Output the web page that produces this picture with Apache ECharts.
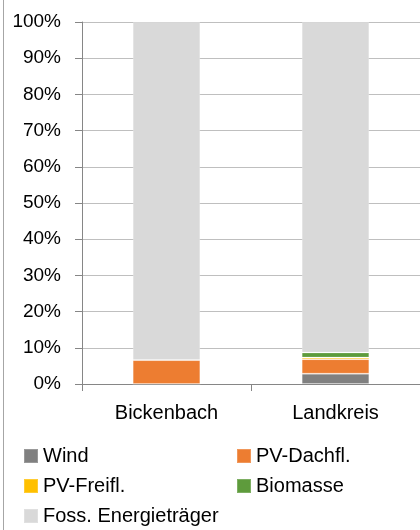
<!DOCTYPE html>
<html>
<head>
<meta charset="utf-8">
<script src="https://cdn.jsdelivr.net/npm/echarts@6/dist/echarts.min.js"></script>
<style>
  html, body { margin: 0; padding: 0; background: #fff; }
  #chart { width: 420px; height: 530px; }
</style>
</head>
<body>
<div id="chart"></div>
<script>
// Share of energy sources (percent of total), stacked per region
const categories = ['Bickenbach', 'Landkreis'];
const wind        = [0, 2.85];
const pvDach      = [6.6, 4.0];
const pvFrei      = [0, 0.45];
const biomasse    = [0, 1.4];
const fossil      = [93.4, 91.3];
const yTicks      = { min: 0, max: 100, step: 10 };

const seriesDefs = [
  { name: 'Wind', data: wind, color: '#808080' },
  { name: 'PV-Dachfl.', data: pvDach, color: '#ED7D31' },
  { name: 'PV-Freifl.', data: pvFrei, color: '#FFC000' },
  { name: 'Biomasse', data: biomasse, color: '#5E9B3C' },
  { name: 'Foss. Energieträger', data: fossil, color: '#D9D9D9' }
];

// Legend laid out in two columns, three rows
const legendSlots = [
  { name: 'Wind', col: 0, row: 0 },
  { name: 'PV-Dachfl.', col: 1, row: 0 },
  { name: 'PV-Freifl.', col: 0, row: 1 },
  { name: 'Biomasse', col: 1, row: 1 },
  { name: 'Foss. Energieträger', col: 0, row: 2 }
];

const font = 'Liberation Sans, Arial, sans-serif';
const legendText = { fontFamily: font, fontSize: 20, color: '#000' };
const colLeft = [23, 236];

const chart = echarts.init(document.getElementById('chart'), null, { renderer: 'canvas' });
chart.setOption({
  animation: false,
  backgroundColor: '#fff',
  textStyle: { fontFamily: font },
  grid: { left: 82, top: 22, width: 340, height: 362, containLabel: false },
  legend: legendSlots.map(s => ({
    data: [s.name],
    left: colLeft[s.col], top: 446 + s.row * 30,
    itemWidth: 14, itemHeight: 14, itemGap: 5,
    icon: 'rect', textStyle: legendText, padding: 0, selectedMode: false
  })),
  xAxis: {
    type: 'category',
    data: categories,
    axisLine: { lineStyle: { color: '#868686', width: 1 } },
    axisTick: { show: true, length: 7, lineStyle: { color: '#868686' } },
    axisLabel: { color: '#000', fontSize: 20, fontFamily: font, margin: 19 },
    splitLine: { show: false }
  },
  yAxis: {
    type: 'value',
    min: yTicks.min, max: yTicks.max, interval: yTicks.step,
    axisLine: { show: true, lineStyle: { color: '#868686', width: 1 } },
    axisTick: { show: true, length: 7, lineStyle: { color: '#868686' } },
    axisLabel: { color: '#000', fontSize: 19, fontFamily: font, margin: 21, formatter: '{value}%' },
    splitLine: { show: true, lineStyle: { color: '#BFBFBF', width: 1 } }
  },
  series: seriesDefs.map(s => ({
    name: s.name,
    type: 'bar',
    stack: 'total',
    barWidth: '40%',
    data: s.data,
    itemStyle: { color: s.color, borderColor: 'rgba(255,255,255,0.2)', borderWidth: 1 }
  })),
  graphic: [
    {
      type: 'line',
      shape: { x1: 3.5, y1: 0, x2: 3.5, y2: 530 },
      style: { stroke: '#A6A6A6', lineWidth: 1 }
    }
  ]
});
</script>
</body>
</html>
